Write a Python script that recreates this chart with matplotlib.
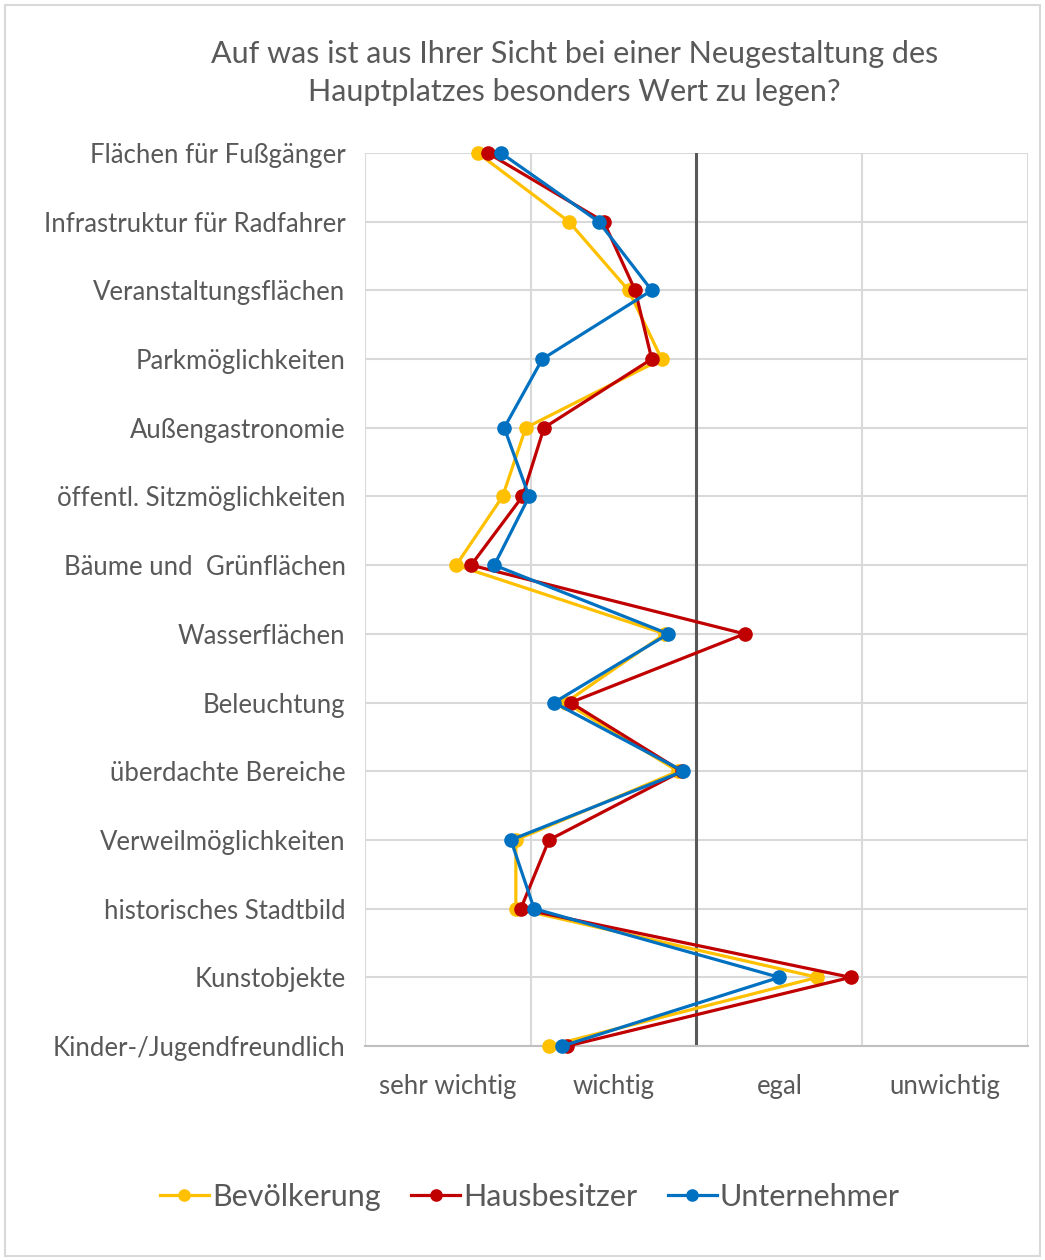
import matplotlib
matplotlib.use("Agg")
import matplotlib.pyplot as plt
from matplotlib.patches import Rectangle

plt.rcParams['font.family'] = ['Lato', 'DejaVu Sans']

# Kategorien (oben nach unten)
kategorien = ["Flächen für Fußgänger", "Infrastruktur für Radfahrer", "Veranstaltungsflächen",
              "Parkmöglichkeiten", "Außengastronomie", "öffentl. Sitzmöglichkeiten",
              "Bäume und  Grünflächen", "Wasserflächen", "Beleuchtung", "überdachte Bereiche",
              "Verweilmöglichkeiten", "historisches Stadtbild", "Kunstobjekte",
              "Kinder-/Jugendfreundlich"]
skala = ["sehr wichtig", "wichtig", "egal", "unwichtig"]

# Mittelwerte 1 = sehr wichtig ... 4 = unwichtig
bevoelkerung = [1.18, 1.73, 2.09, 2.29, 1.47, 1.33, 1.05, 2.31, 1.71, 2.39, 1.41, 1.41, 3.23, 1.61]
hausbesitzer = [1.24, 1.94, 2.13, 2.23, 1.58, 1.45, 1.14, 2.79, 1.74, 2.41, 1.61, 1.44, 3.43, 1.72]
unternehmer = [1.32, 1.91, 2.23, 1.57, 1.34, 1.49, 1.28, 2.33, 1.64, 2.42, 1.38, 1.52, 3.00, 1.69]

serien = [("Bevölkerung", bevoelkerung, "#FFC000"),
          ("Hausbesitzer", hausbesitzer, "#C00000"),
          ("Unternehmer", unternehmer, "#0070C0")]

fig = plt.figure(figsize=(10.45, 12.6), dpi=100)
fig.patches.append(Rectangle((0.005, 0.003), 0.99, 0.993, transform=fig.transFigure,
                             fill=False, edgecolor="#d9d9d9", linewidth=1.5))

ax = fig.add_axes([0.3493, 0.1698, 0.6344, 0.7088])
pos = list(range(len(kategorien)))

for name, werte, farbe in serien:
    ax.plot(werte, pos, '-o', color=farbe, linewidth=2.3, markersize=9.5,
            label=name, clip_on=False, zorder=3)

ax.set_xlim(0.5, 4.5)
ax.set_ylim(len(kategorien) - 1, 0)
ax.set_yticks(pos)
ax.set_yticklabels(kategorien, fontsize=18.5, color="#595959")
ax.set_xticks([1, 2, 3, 4])
ax.set_xticklabels(skala, fontsize=18.5, color="#595959")
ax.tick_params(axis='both', length=0)
ax.tick_params(axis='y', pad=14)
ax.tick_params(axis='x', pad=20)

for v in [0.5, 1.5, 3.5, 4.5]:
    ax.axvline(v, color="#d9d9d9", linewidth=1.5, zorder=1)
for p in pos:
    ax.axhline(p, color="#d9d9d9", linewidth=1.5, zorder=1)
ax.axvline(2.5, color="#595959", linewidth=2.2, zorder=2)

for s in ['top', 'right', 'left']:
    ax.spines[s].set_visible(False)
ax.spines['bottom'].set_color("#bfbfbf")
ax.spines['bottom'].set_linewidth(1.5)

fig.text(0.55, 0.942, "Auf was ist aus Ihrer Sicht bei einer Neugestaltung des\nHauptplatzes besonders Wert zu legen?",
         ha='center', va='center', fontsize=22, color="#595959", linespacing=1.45)

fig.legend(loc='center', bbox_to_anchor=(0.507, 0.05), ncol=3, frameon=False,
           fontsize=22, labelcolor="#595959", handlelength=1.6, handletextpad=0.1,
           columnspacing=1.0, markerscale=0.85)

fig.savefig("out.png", dpi=100)
